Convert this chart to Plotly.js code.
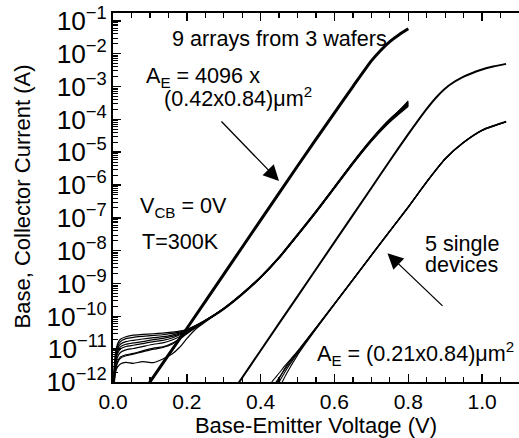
<!DOCTYPE html>
<html>
<head>
<meta charset="utf-8">
<script src="https://cdn.plot.ly/plotly-3.0.1.min.js"></script>
<style>html,body{margin:0;padding:0;background:#fff;}#chart{width:519px;height:438px;}</style>
</head>
<body>
<div id="chart"></div>
<script>
// Values are log10 of current in amperes.
// Array devices (A_E = 4096 x 0.42x0.84 um^2): base currents, 9 arrays
const vbeArrayIb = [0, 0.003, 0.007, 0.012, 0.02, 0.035, 0.055, 0.08, 0.11, 0.135, 0.16, 0.18, 0.2, 0.225, 0.25, 0.3, 0.35, 0.4, 0.45, 0.5, 0.55, 0.6, 0.65, 0.7, 0.75, 0.8];
const ibArray1 = [-12.6, -11.6, -11.1, -10.85, -10.7, -10.62, -10.57, -10.55, -10.53, -10.51, -10.48, -10.45, -10.40, -10.27, -10.12, -9.76, -9.32, -8.82, -8.22, -7.53, -6.82, -6.08, -5.34, -4.64, -4.04, -3.44];
const ibArray2 = [-12.6, -11.7, -11.2, -10.92, -10.77, -10.68, -10.64, -10.61, -10.58, -10.56, -10.52, -10.48, -10.41, -10.28, -10.12, -9.76, -9.31, -8.81, -8.21, -7.52, -6.81, -6.07, -5.33, -4.63, -4.02, -3.47];
const ibArray3 = [-12.6, -11.75, -11.3, -11.0, -10.85, -10.77, -10.73, -10.69, -10.65, -10.62, -10.57, -10.51, -10.43, -10.29, -10.13, -9.76, -9.31, -8.80, -8.20, -7.51, -6.80, -6.06, -5.31, -4.61, -4.00, -3.50];
const ibArray4 = [-12.6, -11.8, -11.35, -11.08, -10.93, -10.85, -10.81, -10.77, -10.71, -10.67, -10.61, -10.54, -10.44, -10.29, -10.13, -9.75, -9.30, -8.79, -8.19, -7.50, -6.79, -6.05, -5.30, -4.60, -3.99, -3.51];
const ibArray5 = [-12.6, -11.85, -11.4, -11.15, -11.0, -10.92, -10.88, -10.83, -10.77, -10.73, -10.66, -10.57, -10.46, -10.30, -10.14, -9.77, -9.31, -8.80, -8.20, -7.50, -6.80, -6.06, -5.31, -4.62, -4.02, -3.53];
const ibArray6 = [-12.6, -11.9, -11.5, -11.25, -11.1, -11.02, -10.98, -10.92, -10.85, -10.81, -10.72, -10.62, -10.49, -10.31, -10.14, -9.77, -9.32, -8.81, -8.21, -7.52, -6.82, -6.08, -5.33, -4.64, -4.04, -3.56];
const ibArray7 = [-12.6, -12.0, -11.6, -11.38, -11.24, -11.17, -11.13, -11.05, -10.97, -10.93, -10.82, -10.68, -10.52, -10.33, -10.15, -9.78, -9.33, -8.82, -8.22, -7.53, -6.83, -6.09, -5.35, -4.66, -4.06, -3.58];
const ibArray8 = [-12.6, -12.1, -11.7, -11.55, -11.45, -11.40, -11.43, -11.38, -11.41, -11.30, -11.15, -10.95, -10.68, -10.38, -10.17, -9.79, -9.34, -8.83, -8.23, -7.54, -6.84, -6.10, -5.36, -4.67, -4.08, -3.60];
const ibArray9 = [-12.6, -12.0, -11.65, -11.42, -11.28, -11.20, -11.15, -11.08, -11.00, -10.95, -10.85, -10.70, -10.53, -10.33, -10.15, -9.78, -9.33, -8.82, -8.22, -7.53, -6.83, -6.09, -5.34, -4.65, -4.05, -3.55];

// Array collector current (9 arrays overlap into one line)
const vbeArrayIc = [0.09, 0.1, 0.15, 0.2, 0.3, 0.4, 0.5, 0.6, 0.65, 0.7, 0.725, 0.75, 0.775, 0.8];
const icArray = [-12.17, -12.0, -11.18, -10.37, -8.72, -7.07, -5.42, -3.8, -3.0, -2.22, -1.9, -1.63, -1.42, -1.24];

// Single devices (A_E = 0.21x0.84 um^2): collector current (5 devices overlap)
const vbeSingleIc = [0.33, 0.342, 0.4, 0.5, 0.6, 0.7, 0.75, 0.8, 0.85, 0.88, 0.91, 0.95, 1.0, 1.03, 1.065];
const icSingle = [-12.2, -12.0, -11.04, -9.39, -7.74, -6.09, -5.26, -4.45, -3.68, -3.28, -2.97, -2.7, -2.48, -2.39, -2.31];

// Single devices: base currents, 5 devices
const vbeSingleIb = [0.43, 0.445, 0.47, 0.5, 0.55, 0.6, 0.7, 0.75, 0.8, 0.85, 0.9, 0.95, 1.0, 1.03, 1.065];
const ibSingle1 = [-12.2, -11.95, -11.55, -11.10, -10.36, -9.62, -8.14, -7.40, -6.67, -5.90, -5.20, -4.70, -4.33, -4.20, -4.07];
const ibSingle2 = [-12.4, -12.1, -11.62, -11.13, -10.37, -9.63, -8.15, -7.41, -6.68, -5.91, -5.21, -4.71, -4.34, -4.21, -4.08];
const ibSingle3 = [-12.0, -11.8, -11.45, -11.06, -10.34, -9.61, -8.13, -7.39, -6.66, -5.89, -5.19, -4.69, -4.32, -4.19, -4.06];
const ibSingle4 = [-12.6, -12.3, -11.75, -11.18, -10.39, -9.64, -8.15, -7.41, -6.68, -5.91, -5.21, -4.71, -4.34, -4.21, -4.08];
const ibSingle5 = [-12.3, -12.0, -11.5, -11.08, -10.35, -9.62, -8.14, -7.40, -6.67, -5.90, -5.20, -4.70, -4.33, -4.20, -4.07];

const toAmp = arr => arr.map(v => Math.pow(10, v));
const traces = [];
function addLine(xs, logs, w) {
  traces.push({x: xs, y: toAmp(logs), type: 'scatter', mode: 'lines',
    line: {color: 'black', width: w, shape: 'spline', smoothing: 0.6}, hoverinfo: 'skip'});
}
[ibArray1, ibArray2, ibArray3, ibArray4, ibArray5, ibArray6, ibArray7, ibArray8, ibArray9].forEach(a => addLine(vbeArrayIb, a, 1.2));
addLine(vbeArrayIc, icArray, 3);
addLine(vbeSingleIc, icSingle, 2);
[ibSingle1, ibSingle2, ibSingle3, ibSingle4, ibSingle5].forEach(a => addLine(vbeSingleIb, a, 1.1));

const F = 'Liberation Sans, Arial, Helvetica, sans-serif';
const ann = (x, y, text, extra) => Object.assign({xref: 'paper', yref: 'paper', x: x, y: y, text: text,
  showarrow: false, xanchor: 'left', yanchor: 'middle', font: {family: F, size: 21.6, color: 'black'}}, extra || {});

const layout = {
  width: 519, height: 438,
  margin: {l: 113, r: 0, t: 13, b: 56, pad: 0},
  paper_bgcolor: 'white', plot_bgcolor: 'white',
  showlegend: false,
  font: {family: F, color: 'black'},
  xaxis: {
    range: [0, 1.1], tick0: 0, dtick: 0.2, tickformat: '.1f',
    ticks: 'inside', ticklen: 8, tickwidth: 1.5, tickcolor: 'black',
    showline: true, linewidth: 2, linecolor: 'black', mirror: 'ticks',
    showgrid: false, zeroline: false,
    tickfont: {family: F, size: 21, color: 'black'},
    title: {text: 'Base-Emitter Voltage (V)', font: {family: F, size: 22, color: 'black'}},
    minor: {ticks: 'inside', tick0: 0, dtick: 0.05, ticklen: 5, tickwidth: 1.2, tickcolor: 'black', showgrid: false}
  },
  yaxis: {
    type: 'log', range: [-12, -0.76], dtick: 1, exponentformat: 'power',
    ticks: 'inside', ticklen: 8, tickwidth: 1.5, tickcolor: 'black',
    showline: true, linewidth: 2, linecolor: 'black', mirror: false,
    showgrid: false, zeroline: false,
    tickfont: {family: F, size: 21, color: 'black'},
    minor: {ticks: 'inside', ticklen: 5, tickwidth: 1, tickcolor: 'black', showgrid: false}
  },
  annotations: [
    ann(-0.2217, 0.5027, 'Base, Collector Current (A)', {xanchor: 'center', textangle: -90, font: {family: F, size: 22, color: 'black'}}),
    ann(0.1404, 0.9309, '9 arrays from 3 wafers'),
    ann(0.0764, 0.8266, 'A<sub>E</sub> = 4096 x'),
    ann(0.1207, 0.7724, '(0.42x0.84)μm<sup>2</sup>'),
    ann(0.0616, 0.4729, 'V<sub>CB</sub> = 0V'),
    ann(0.0658, 0.3821, 'T=300K'),
    ann(0.7628, 0.3740, '5 single'),
    ann(0.7628, 0.3171, 'devices'),
    ann(0.4975, 0.0759, 'A<sub>E</sub> = (0.21x0.84)μm<sup>2</sup>'),
    {xref: 'paper', yref: 'paper', x: 0.4089, y: 0.5447, ax: -59, ay: -61, text: '', showarrow: true,
     arrowhead: 2, arrowsize: 2.4, arrowwidth: 1.3, arrowcolor: 'black', standoff: 0},
    {xref: 'paper', yref: 'paper', x: 0.6761, y: 0.3488, ax: 56.5, ay: 54, text: '', showarrow: true,
     arrowhead: 2, arrowsize: 2.4, arrowwidth: 1.3, arrowcolor: 'black', standoff: 0}
  ]
};

Plotly.newPlot('chart', traces, layout, {displayModeBar: false, staticPlot: true});
</script>
</body>
</html>
